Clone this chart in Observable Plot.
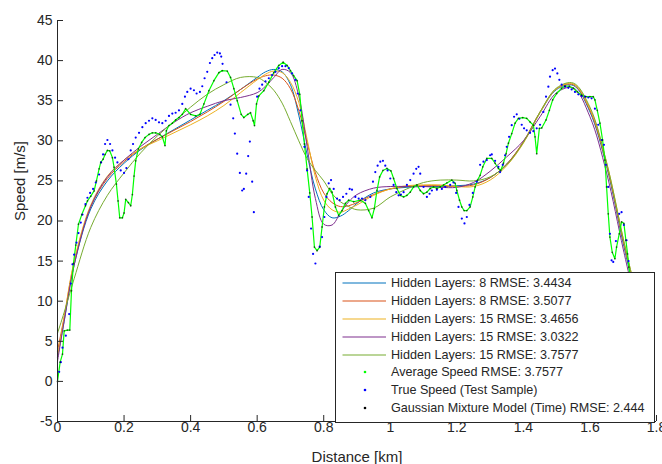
<!DOCTYPE html>
<html>
<head>
<meta charset="utf-8">
<script src="https://cdn.jsdelivr.net/npm/d3@7"></script>
<script src="https://cdn.jsdelivr.net/npm/@observablehq/plot@0.6"></script>
<style>
  html, body { margin: 0; padding: 0; background: #fff; }
  #wrap { position: relative; width: 662px; height: 464px; font-family: "Liberation Sans", Arial, Helvetica, sans-serif; }
  #legend { position: absolute; left: 335px; top: 272px; width: 318px; height: 148px; border: 1px solid #262626; background: #fff; padding-top: 1px; box-sizing: content-box; }
  .row { display: flex; align-items: center; height: 17.9px; font-size: 12.6px; color: #262626; white-space: nowrap; }
  .row svg { flex: 0 0 55px; }
</style>
</head>
<body>
<div id="wrap">
  <div id="chart"></div>
  <div id="legend"></div>
</div>
<script>
// ---- data ----
const curveDist = [0,0.02,0.05,0.1,0.15,0.2,0.25,0.3,0.35,0.4,0.45,0.5,0.55,0.6,0.625,0.65,0.675,0.7,0.725,0.75,0.775,0.8,0.825,0.85,0.875,0.9,0.95,1.0,1.05,1.1,1.15,1.2,1.25,1.3,1.35,1.4,1.45,1.5,1.55,1.6,1.65,1.7,1.73];

const hl8aSpeed = [3.0,7.5,14.5,21.5,25.0,27.2,28.9,30.2,31.4,32.6,33.8,35.0,36.4,37.9,38.6,38.9,38.6,37.0,33.2,28.3,24.0,21.4,20.4,20.6,21.3,22.2,23.5,24.0,24.2,24.3,24.3,24.4,24.6,25.4,27.1,29.8,33.5,36.4,36.9,33.6,26.8,17.2,11.8];
const hl8bSpeed = [3.8,8.0,14.8,21.8,25.3,27.4,29.0,30.2,31.3,32.4,33.6,34.9,36.4,37.7,38.1,38.2,37.8,36.5,33.8,29.8,26.0,23.5,22.3,21.8,21.9,22.3,23.3,24.0,24.3,24.4,24.4,24.3,24.5,25.4,27.1,29.9,33.6,36.5,37.0,33.8,27.0,17.5,12.2];
const hl15aSpeed = [3.0,8.0,15.0,22.0,25.6,27.6,29.0,30.0,31.0,32.0,33.1,34.4,36.0,37.6,38.3,38.7,38.5,37.3,34.8,30.2,25.5,22.6,21.4,21.1,21.5,22.0,23.2,24.0,24.4,24.5,24.5,24.3,24.3,25.1,26.9,29.7,33.5,36.5,37.1,34.0,27.3,17.8,12.5];
const hl15bSpeed = [2.5,7.5,14.5,21.8,25.5,27.6,29.3,30.8,32.3,33.5,34.3,35.0,35.4,36.0,36.8,37.9,38.9,38.5,35.6,29.3,22.8,19.6,19.5,21.0,22.4,23.3,24.1,24.3,24.3,24.3,24.2,24.2,24.8,26.2,28.0,30.0,33.0,36.0,36.6,33.0,26.0,16.5,11.0];
const hl15cSpeed = [6.0,8.6,12.8,19.2,23.2,26.0,28.5,30.6,32.4,34.2,35.8,37.0,37.9,37.9,37.3,36.3,34.7,32.4,30.0,27.8,26.3,25.0,23.4,22.4,21.8,21.4,21.6,23.0,24.0,24.8,25.1,25.1,25.0,25.5,27.0,29.8,33.6,36.6,37.2,34.2,27.3,17.8,12.5];

// average speed (km, m/s)
const avgSpeed = [[0,0],[0.008,2.4],[0.015,3.4],[0.02,6.3],[0.03,6.4],[0.037,6.4],[0.042,11.3],[0.048,14.7],[0.055,17.0],[0.063,19.6],[0.073,20.8],[0.084,21.9],[0.09,22.5],[0.1,23.1],[0.11,23.75],[0.117,25.0],[0.125,26.5],[0.13,27.3],[0.137,27.7],[0.143,28.3],[0.15,28.8],[0.157,28.75],[0.165,27.9],[0.17,26.7],[0.177,24.6],[0.182,22.5],[0.187,20.4],[0.195,20.4],[0.2,21.0],[0.205,22.7],[0.213,22.3],[0.22,21.9],[0.225,23.3],[0.23,25.6],[0.235,27.5],[0.243,29.0],[0.253,29.8],[0.263,30.4],[0.275,30.8],[0.285,31.0],[0.295,31.0],[0.307,30.8],[0.315,30.5],[0.323,29.4],[0.327,31.25],[0.335,31.9],[0.345,32.2],[0.355,32.6],[0.365,32.9],[0.375,33.3],[0.385,34.0],[0.4,33.3],[0.415,33.1],[0.428,33.3],[0.44,34.6],[0.455,36.25],[0.47,37.5],[0.485,38.5],[0.495,38.75],[0.51,38.7],[0.52,37.9],[0.53,36.5],[0.54,35.0],[0.552,33.3],[0.56,32.9],[0.572,33.3],[0.58,33.5],[0.588,32.5],[0.592,31.9],[0.598,34.6],[0.605,35.6],[0.62,36.25],[0.635,37.3],[0.65,38.5],[0.665,39.4],[0.678,39.8],[0.69,39.4],[0.7,38.75],[0.71,38.1],[0.72,37.5],[0.728,35.8],[0.735,32.5],[0.742,29.6],[0.75,26.5],[0.758,23.5],[0.765,20.5],[0.772,16.75],[0.78,16.3],[0.788,16.75],[0.795,19.25],[0.802,21.75],[0.81,23.4],[0.818,24.05],[0.825,23.6],[0.835,21.75],[0.845,20.7],[0.855,21.3],[0.865,22.2],[0.875,22.6],[0.89,22.4],[0.91,22.6],[0.925,22.2],[0.935,21.3],[0.945,20.4],[0.952,21.55],[0.96,23.8],[0.968,25.5],[0.978,26.3],[0.99,26.55],[1.002,26.25],[1.01,25.3],[1.02,24.05],[1.03,23.2],[1.04,23.0],[1.05,23.2],[1.06,23.6],[1.07,24.25],[1.08,24.5],[1.09,23.8],[1.1,23.4],[1.11,23.6],[1.12,24.05],[1.13,24.25],[1.14,24.05],[1.15,24.25],[1.16,24.5],[1.17,24.75],[1.185,25.1],[1.195,24.7],[1.2,23.8],[1.208,22.6],[1.215,21.75],[1.222,21.3],[1.23,21.3],[1.24,21.75],[1.248,23.0],[1.255,24.25],[1.262,25.1],[1.27,25.7],[1.278,26.75],[1.29,27.8],[1.305,27.8],[1.315,27.2],[1.325,26.55],[1.332,26.3],[1.34,27.2],[1.348,28.4],[1.355,29.7],[1.365,30.9],[1.375,32.2],[1.385,32.8],[1.398,32.9],[1.41,32.8],[1.42,32.35],[1.43,31.95],[1.435,30.5],[1.44,28.4],[1.448,31.55],[1.455,31.6],[1.468,32.6],[1.478,33.8],[1.488,35.1],[1.5,35.9],[1.515,36.55],[1.525,36.8],[1.538,36.8],[1.55,36.55],[1.562,36.1],[1.575,35.7],[1.588,35.5],[1.6,35.5],[1.61,35.5],[1.615,35.1],[1.622,33.8],[1.63,32.2],[1.638,30.1],[1.645,27.6],[1.65,24.25],[1.655,20.9],[1.66,18.0],[1.667,16.1],[1.675,15.3],[1.68,16.75],[1.688,18.4],[1.695,19.9],[1.702,19.7],[1.708,17.6],[1.713,15.9],[1.717,14.25],[1.722,12.5]];

// GMM estimates sit on the same sample points
const gmmSpeed = avgSpeed;

// true speed test sample (km, m/s)
const trueSpeed = [[0.005,1.2],[0.01,2.4],[0.015,4.2],[0.025,5.7],[0.035,8.4],[0.04,12.2],[0.045,14.6],[0.05,15.8],[0.057,17.3],[0.063,18.5],[0.07,19.8],[0.075,20.8],[0.084,22.1],[0.09,22.9],[0.098,23.5],[0.107,24.0],[0.115,24.8],[0.125,25.8],[0.131,27.3],[0.137,28.3],[0.143,29.6],[0.15,30.1],[0.158,29.6],[0.165,28.8],[0.173,27.9],[0.18,27.3],[0.19,26.3],[0.2,26.0],[0.207,26.6],[0.213,27.7],[0.22,28.8],[0.227,29.6],[0.235,30.4],[0.245,31.0],[0.255,31.7],[0.265,32.2],[0.275,32.5],[0.285,32.8],[0.295,32.6],[0.305,32.3],[0.315,32.2],[0.325,32.5],[0.335,33.1],[0.345,33.4],[0.355,33.5],[0.365,33.8],[0.375,34.6],[0.383,35.5],[0.39,36.1],[0.4,36.5],[0.41,36.3],[0.418,35.9],[0.428,36.1],[0.435,36.8],[0.442,37.8],[0.45,38.6],[0.458,39.7],[0.465,40.3],[0.472,40.7],[0.48,41.0],[0.488,40.9],[0.492,40.5],[0.496,39.6],[0.508,37.3],[0.52,34.5],[0.528,32.8],[0.533,30.9],[0.54,28.4],[0.548,26.0],[0.555,23.8],[0.56,24.0],[0.567,25.9],[0.573,28.1],[0.578,29.9],[0.585,24.9],[0.59,21.1],[0.6,35.5],[0.607,36.5],[0.615,37.0],[0.625,37.4],[0.635,37.8],[0.645,38.2],[0.655,38.6],[0.665,39.05],[0.675,39.3],[0.685,39.3],[0.695,39.05],[0.705,38.4],[0.715,37.6],[0.722,35.9],[0.73,33.8],[0.742,29.25],[0.75,26.3],[0.755,23.0],[0.762,19.05],[0.768,15.9],[0.775,14.7],[0.788,16.8],[0.795,18.0],[0.802,20.5],[0.808,23.0],[0.815,24.7],[0.822,25.1],[0.83,24.0],[0.84,22.8],[0.848,22.6],[0.858,23.0],[0.868,23.4],[0.878,24.0],[0.885,23.9],[0.895,23.0],[0.905,22.8],[0.915,22.8],[0.925,22.6],[0.94,23.0],[0.948,24.9],[0.955,26.1],[0.962,26.9],[0.97,27.4],[0.978,27.5],[0.985,26.9],[0.992,26.3],[1.0,25.3],[1.01,24.5],[1.018,23.6],[1.025,23.2],[1.032,23.3],[1.04,23.6],[1.05,24.5],[1.06,25.1],[1.07,25.9],[1.078,26.5],[1.085,26.75],[1.09,25.9],[1.1,24.25],[1.11,23.0],[1.118,23.4],[1.125,23.8],[1.14,23.9],[1.155,24.0],[1.165,24.25],[1.18,24.5],[1.19,24.8],[1.198,23.5],[1.205,21.75],[1.215,20.3],[1.223,19.7],[1.23,20.5],[1.238,22.0],[1.248,23.5],[1.26,24.9],[1.27,27.0],[1.28,27.4],[1.29,27.6],[1.3,28.2],[1.305,28.3],[1.315,27.5],[1.325,26.75],[1.33,26.1],[1.338,27.0],[1.345,28.2],[1.35,29.25],[1.357,30.5],[1.365,31.95],[1.372,33.0],[1.38,33.3],[1.388,32.75],[1.395,32.0],[1.402,31.55],[1.41,31.3],[1.42,31.0],[1.43,31.2],[1.44,31.55],[1.45,32.0],[1.46,33.6],[1.468,35.5],[1.475,36.75],[1.48,38.0],[1.488,38.8],[1.495,39.0],[1.502,38.4],[1.508,37.6],[1.515,37.0],[1.525,36.75],[1.535,36.6],[1.545,36.4],[1.555,36.1],[1.565,35.8],[1.575,35.6],[1.585,35.5],[1.595,35.4],[1.605,35.3],[1.615,34.0],[1.625,32.0],[1.635,30.1],[1.642,29.5],[1.648,27.0],[1.655,24.25],[1.66,18.4],[1.665,15.1],[1.67,14.9],[1.678,17.5],[1.688,20.9],[1.695,21.1],[1.702,19.5],[1.71,17.6],[1.716,15.0]];

const xTicks = [0,0.2,0.4,0.6,0.8,1.0,1.2,1.4,1.6,1.8];
const xTickLabels = ["0","0.2","0.4","0.6","0.8","1","1.2","1.4","1.6","1.8"];
const yTicks = [-5,0,5,10,15,20,25,30,35,40,45];
const yTickLabels = ["-5","0","5","10","15","20","25","30","35","40","45"];

const curveLabels = ["Hidden Layers: 8 RMSE: 3.4434","Hidden Layers: 8 RMSE: 3.5077","Hidden Layers: 15 RMSE: 3.4656","Hidden Layers: 15 RMSE: 3.0322","Hidden Layers: 15 RMSE: 3.7577"];
const curveColors = ["#0072BD","#D95319","#EDB120","#7E2F8E","#77AC30"];
const pointLabels = ["Average Speed RMSE: 3.7577","True Speed (Test Sample)","Gaussian Mixture Model (Time) RMSE: 2.444"];
const pointColors = ["#00ff00","#0000ff","#000000"];

// ---- chart ----
const curveValues = [hl8aSpeed, hl8bSpeed, hl15aSpeed, hl15bSpeed, hl15cSpeed];
const ink = "#262626";

const chart = Plot.plot({
  width: 662,
  height: 464,
  marginLeft: 57,
  marginRight: 6,
  marginTop: 20,
  marginBottom: 43,
  x: {domain: [0, 1.8]},
  y: {domain: [-5, 45]},
  style: {fontFamily: "'Liberation Sans', Arial, Helvetica, sans-serif", color: ink, background: "#fff", overflow: "visible"},
  marks: [
    ...curveValues.map((vals, k) => Plot.line(curveDist, {
      x: d => d, y: (d, i) => vals[i], stroke: curveColors[k], strokeWidth: 1, curve: "catmull-rom"
    })),
    Plot.line(avgSpeed, {x: d => d[0], y: d => d[1], stroke: pointColors[0], strokeWidth: 1.2}),
    Plot.dot(trueSpeed, {x: d => d[0], y: d => d[1], r: 1.1, fill: pointColors[1], stroke: null}),
    Plot.dot(gmmSpeed, {x: d => d[0], y: d => d[1], r: 0.9, fill: pointColors[2], fillOpacity: 0.6, stroke: null}),
    Plot.ruleX([0], {stroke: ink}),
    Plot.ruleY([-5], {stroke: ink}),
    Plot.axisX(xTicks, {tickSize: -6, tickPadding: 7, fontSize: 14, label: null,
      tickFormat: d => xTickLabels[xTicks.indexOf(d)]}),
    Plot.axisY(yTicks, {tickSize: -6, tickPadding: 11, fontSize: 14, label: null,
      tickFormat: d => yTickLabels[yTicks.indexOf(d)]}),
    Plot.text(["Distance [km]"], {text: d => d, frameAnchor: "bottom", dy: 36, lineAnchor: "middle", fontSize: 15, fill: ink}),
    Plot.text(["Speed [m/s]"], {text: d => d, frameAnchor: "left", dx: -37, rotate: -90, lineAnchor: "middle", fontSize: 15, fill: ink})
  ]
});
document.getElementById("chart").appendChild(chart);

// ---- legend ----
const legend = document.getElementById("legend");
const ns = "http://www.w3.org/2000/svg";
function addRow(label, color, kind) {
  const row = document.createElement("div");
  row.className = "row";
  const s = document.createElementNS(ns, "svg");
  s.setAttribute("width", 55);
  s.setAttribute("height", 18);
  if (kind === "line") {
    const l = document.createElementNS(ns, "line");
    l.setAttribute("x1", 6.5); l.setAttribute("x2", 50);
    l.setAttribute("y1", 9); l.setAttribute("y2", 9);
    l.setAttribute("stroke", color); l.setAttribute("stroke-width", 1.2);
    s.appendChild(l);
  } else {
    const c = document.createElementNS(ns, "circle");
    c.setAttribute("cx", 29); c.setAttribute("cy", 9); c.setAttribute("r", 1.3);
    c.setAttribute("fill", color);
    s.appendChild(c);
  }
  row.appendChild(s);
  const t = document.createElement("span");
  t.textContent = label;
  row.appendChild(t);
  legend.appendChild(row);
}
curveLabels.forEach((lab, i) => addRow(lab, curveColors[i], "line"));
pointLabels.forEach((lab, i) => addRow(lab, pointColors[i], "dot"));
</script>
</body>
</html>
